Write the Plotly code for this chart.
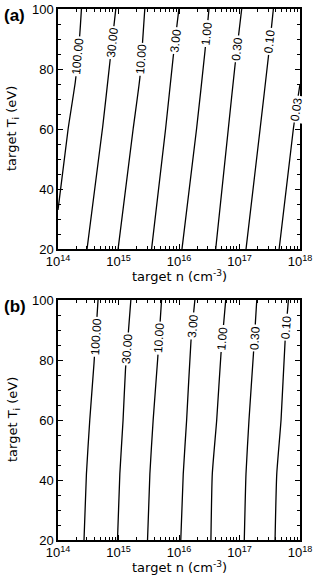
import numpy as np
import plotly.graph_objects as go

# ---------------- data ----------------
levels_a = ["100.00", "30.00", "10.00", "3.00", "1.00", "0.30", "0.10", "0.03"]
levels_b = ["100.00", "30.00", "10.00", "3.00", "1.00", "0.30", "0.10"]

# panel (a): target T_i (eV) and target n (cm^-3) along each contour
a100_T = [33, 60, 76, 92, 100]
a100_n = [1.00e14, 1.47e14, 1.94e14, 2.30e14, 2.44e14]
a30_T = [20, 61, 82, 100]
a30_n = [3.02e14, 5.50e14, 7.18e14, 9.02e14]
a10_T = [20, 60, 77, 100]
a10_n = [9.84e14, 1.746e15, 2.254e15, 2.72e15]
a3_T = [20, 60, 84, 100]
a3_n = [3.52e15, 6.00e15, 8.02e15, 9.95e15]
a1_T = [20, 60, 86, 100]
a1_n = [1.12e16, 1.95e16, 2.69e16, 3.13e16]
a03_T = [20, 60, 81, 100]
a03_n = [4.04e16, 6.53e16, 8.41e16, 1.087e17]
a01_T = [20, 60, 84, 100]
a01_n = [1.282e17, 2.19e17, 3.00e17, 3.63e17]
a003_T = [20, 60, 75]
a003_n = [4.52e17, 7.76e17, 1.00e18]

# panel (b)
b100_T = [20, 42, 60, 79, 100]
b100_n = [2.69e14, 2.95e14, 3.35e14, 3.94e14, 4.59e14]
b30_T = [20, 42, 60, 77, 100]
b30_n = [9.62e14, 1.052e15, 1.19e15, 1.306e15, 1.60e15]
b10_T = [20, 42, 60, 80, 100]
b10_n = [3.02e15, 3.30e15, 3.74e15, 4.43e15, 5.15e15]
b3_T = [20, 42, 60, 86, 100]
b3_n = [1.07e16, 1.175e16, 1.337e16, 1.574e16, 1.83e16]
b1_T = [20, 42, 60, 82, 100]
b1_n = [3.37e16, 3.55e16, 4.20e16, 4.94e16, 5.92e16]
b03_T = [20, 42, 60, 82, 100]
b03_n = [1.20e17, 1.28e17, 1.435e17, 1.70e17, 1.93e17]
b01_T = [20, 42, 60, 86, 100]
b01_n = [3.87e17, 4.13e17, 4.86e17, 5.66e17, 6.43e17]

x_tickvals = [1e14, 1e15, 1e16, 1e17, 1e18]
x_ticktext = ["10<sup>14</sup>", "10<sup>15</sup>", "10<sup>16</sup>",
              "10<sup>17</sup>", "10<sup>18</sup>"]

# where along each contour its label sits (T, eV)
label_T_a = [84.3, 88.8, 83.3, 89.5, 91.7, 86.7, 89.2, 66.7]
label_T_b = [87.8, 83.7, 87.3, 91.5, 87.3, 87.5, 91.0]

curves_a = [(a100_T, a100_n), (a30_T, a30_n), (a10_T, a10_n), (a3_T, a3_n),
            (a1_T, a1_n), (a03_T, a03_n), (a01_T, a01_n), (a003_T, a003_n)]
curves_b = [(b100_T, b100_n), (b30_T, b30_n), (b10_T, b10_n), (b3_T, b3_n),
            (b1_T, b1_n), (b03_T, b03_n), (b01_T, b01_n)]

# ---------------- layout geometry ----------------
W, H = 319, 584
X0, X1 = 58, 300
A_TOP, A_BOT = 9, 249
B_TOP, B_BOT = 300, 540
px_per_dec = (X1 - X0) / 4.0
px_per_eV = (A_BOT - A_TOP) / 80.0

fig = go.Figure()
annotations = []


def add_panel(curves, levels, label_T, xa, ya):
    for (T, n), lev in zip(curves, levels):
        fig.add_trace(go.Scatter(
            x=n, y=T, mode="lines", xaxis=xa, yaxis=ya,
            line=dict(color="black", width=1.3, shape="spline", smoothing=0.5),
            showlegend=False, hoverinfo="skip"))
    for (T, n), lev, tl in zip(curves, levels, label_T):
        T = np.asarray(T, float)
        ln = np.log10(np.asarray(n, float))
        lx = float(np.interp(tl, T, ln))
        # local slope in pixels -> text angle along the line
        i = int(np.clip(np.searchsorted(T, tl), 1, len(T) - 1))
        dlog = ln[i] - ln[i - 1]
        dT = T[i] - T[i - 1]
        theta = np.degrees(np.arctan2(dlog * px_per_dec, dT * px_per_eV))
        annotations.append(dict(
            x=lx, y=tl, xref=xa, yref=ya, text=lev, showarrow=False,
            textangle=-(90 - theta), bgcolor="white", borderpad=1,
            font=dict(family="Liberation Sans, Arial, sans-serif", size=12, color="black"),
            xanchor="center", yanchor="middle"))


add_panel(curves_a, levels_a, label_T_a, "x", "y")
add_panel(curves_b, levels_b, label_T_b, "x2", "y2")

minor_x = [m * 10 ** e for e in range(14, 18) for m in range(2, 10)]
tick_font = dict(family="Liberation Sans, Arial, sans-serif", size=13, color="black")
title_font = dict(family="DejaVu Sans, sans-serif", size=13, color="black")

xcommon = dict(
    type="log", range=[14, 18], tickmode="array", tickvals=x_tickvals,
    ticktext=x_ticktext, ticks="inside", ticklen=5, tickwidth=1, tickcolor="black",
    showline=True, linecolor="black", linewidth=1.5, mirror="ticks",
    showgrid=False, zeroline=False, tickfont=tick_font, ticklabeloverflow="allow",
    minor=dict(tickmode="array", tickvals=minor_x, ticks="inside", ticklen=3,
               tickcolor="black", tickwidth=1, showgrid=False),
    automargin=False, domain=[X0 / W, X1 / W])
ycommon = dict(
    range=[20, 100], tick0=0, dtick=20, ticks="inside", ticklen=5, tickwidth=1,
    tickcolor="black", showline=True, linecolor="black", linewidth=1.5,
    mirror="ticks", showgrid=False, zeroline=False, tickfont=tick_font,
    minor=dict(dtick=5, ticks="inside", ticklen=3, tickcolor="black",
               tickwidth=1, showgrid=False),
    automargin=False)

fig.update_layout(
    width=W, height=H, margin=dict(l=0, r=0, t=0, b=0),
    paper_bgcolor="white", plot_bgcolor="white", showlegend=False,
    xaxis=dict(xcommon, anchor="y"),
    yaxis=dict(ycommon, anchor="x", domain=[1 - A_BOT / H, 1 - A_TOP / H]),
    xaxis2=dict(xcommon, anchor="y2"),
    yaxis2=dict(ycommon, anchor="x2", domain=[1 - B_BOT / H, 1 - B_TOP / H]),
)

for txt, ytop, ybot in (("(a)", A_TOP, A_BOT), ("(b)", B_TOP, B_BOT)):
    annotations.append(dict(
        x=2 / W, y=1 - (ytop + 6) / H, xref="paper", yref="paper", text="<b>" + txt + "</b>",
        showarrow=False, xanchor="left", yanchor="middle",
        font=dict(family="Liberation Sans, Arial, sans-serif", size=17, color="black")))
    # axis titles
    annotations.append(dict(
        x=(X0 + X1) / 2 / W, y=1 - (ybot + 27) / H, xref="paper", yref="paper",
        text="target n (cm<sup>-3</sup>)", showarrow=False,
        xanchor="center", yanchor="middle", font=title_font))
    annotations.append(dict(
        x=13 / W, y=1 - (ytop + ybot) / 2 / H, xref="paper", yref="paper",
        text="target T<sub>i</sub> (eV)", showarrow=False, textangle=-90,
        xanchor="center", yanchor="middle", font=title_font))

fig.update_layout(annotations=annotations)
fig.write_html("out.html", config={"displayModeBar": False},
               post_script="document.body.style.margin='0';document.body.style.overflow='hidden';")
